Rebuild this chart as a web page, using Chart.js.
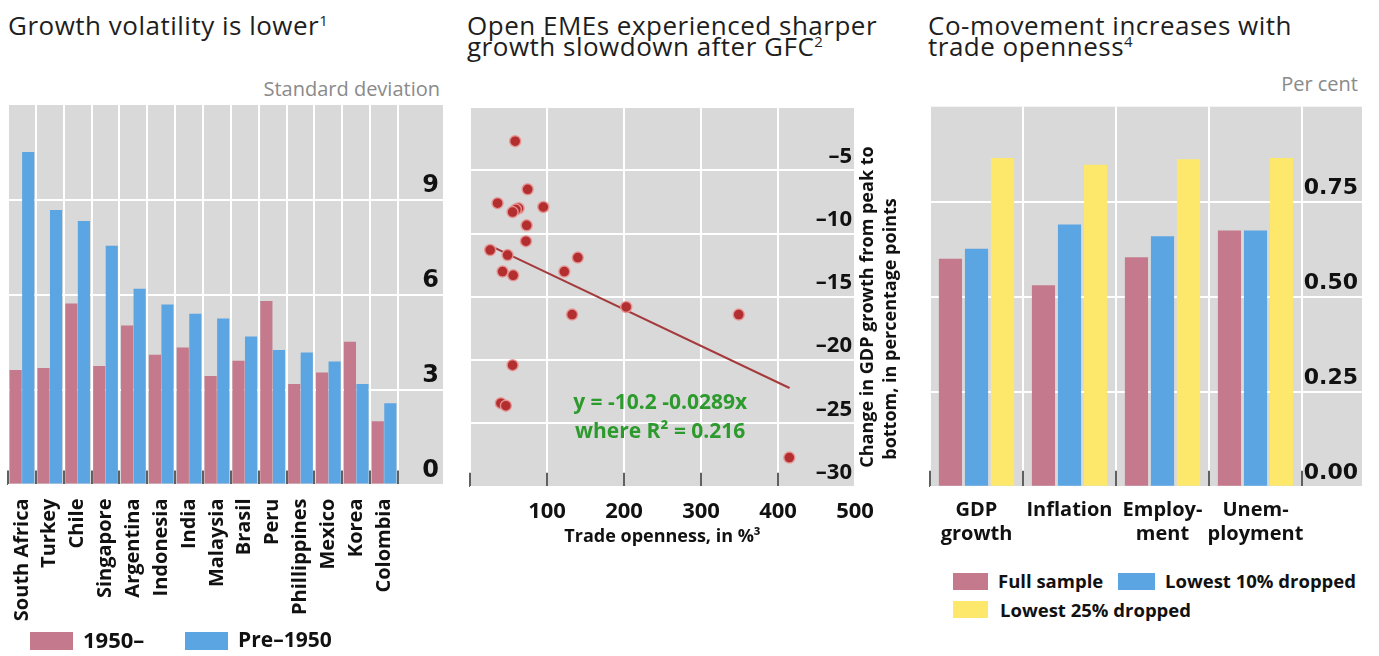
<!DOCTYPE html>
<html><head><meta charset="utf-8">
<script src="https://cdn.jsdelivr.net/npm/chart.js@4.4.1/dist/chart.umd.min.js"></script>
<style>
html,body{margin:0;padding:0;background:#fff;width:1379px;height:656px;overflow:hidden;font-family:'Open Sans',sans-serif;}
.abs{position:absolute;white-space:nowrap;}
.title{font-size:26px;letter-spacing:0.5px;color:#1e1e1e;line-height:21px;}
.title sup{font-size:15px;vertical-align:9px;line-height:0;letter-spacing:0;}
.unit{font-size:20px;color:#8a8a8a;line-height:20px;}
.leg{font-weight:700;color:#111;}
.box{position:absolute;}
canvas{position:absolute;}
</style></head><body>

<div class="abs title" style="left:8px;top:15px;">Growth volatility is lower<sup>1</sup></div>
<div class="abs title" style="left:467px;top:15px;">Open EMEs experienced sharper<br>growth slowdown after GFC<sup>2</sup></div>
<div class="abs title" style="left:928px;top:15px;">Co-movement increases with<br>trade openness<sup>4</sup></div>

<div class="abs unit" style="right:939px;top:79px;">Standard deviation</div>
<div class="abs unit" style="right:21px;top:74px;">Per cent</div>

<canvas id="c1" width="450" height="530" style="left:0;top:100px;"></canvas>
<canvas id="c2" width="460" height="460" style="left:455px;top:100px;"></canvas>
<canvas id="c3" width="464" height="460" style="left:915px;top:100px;"></canvas>

<div class="abs leg" style="left:708px;top:289px;width:340px;height:46px;font-size:18px;line-height:23px;text-align:center;transform:rotate(-90deg);transform-origin:170px 23px;"><span style="padding-left:10px;">Change in GDP growth from peak to</span><br><span style="padding-right:34px;">bottom, in percentage points</span></div>

<div class="box" style="left:30px;top:632px;width:43px;height:18px;background:#c47a8c;"></div>
<div class="abs leg" style="left:83px;top:629px;font-size:22px;line-height:21px;">1950–</div>
<div class="box" style="left:185px;top:632px;width:43px;height:18px;background:#5ca5e3;"></div>
<div class="abs leg" style="left:238px;top:629px;font-size:21px;line-height:21px;">Pre–1950</div>

<div class="box" style="left:953px;top:573px;width:35px;height:17px;background:#c47a8c;"></div>
<div class="abs leg" style="left:998px;top:571px;font-size:18.5px;line-height:19px;">Full sample</div>
<div class="box" style="left:1118px;top:573px;width:37px;height:17px;background:#5ca5e3;"></div>
<div class="abs leg" style="left:1165px;top:571px;font-size:18.5px;line-height:19px;">Lowest 10% dropped</div>
<div class="box" style="left:953px;top:601px;width:35px;height:17px;background:#fde86b;"></div>
<div class="abs leg" style="left:1000px;top:600px;font-size:18.5px;line-height:19px;">Lowest 25% dropped</div>

<script>
// ---------- data ----------
const countries = ['South Africa','Turkey','Chile','Singapore','Argentina','Indonesia','India','Malaysia','Brasil','Peru','Phillippines','Mexico','Korea','Colombia'];
const vol1950 = [3.62,3.68,5.72,3.75,5.03,4.10,4.33,3.43,3.91,5.80,3.18,3.54,4.51,2.00];
const volPre1950 = [10.51,8.68,8.33,7.55,6.19,5.69,5.40,5.25,4.68,4.25,4.17,3.89,3.18,2.57];
const volTicks = [0,3,6,9];

const tradeOpenness = [58.7,74.9,35.8,95.2,63.1,59.6,55.3,73.6,72.7,26.2,48.8,42.3,56.1,122.5,140,132.6,202.9,349,55.3,40.1,46.6,414.7];
const gdpChange = [-2.7,-6.5,-7.6,-7.9,-8.0,-8.1,-8.3,-9.35,-10.6,-11.3,-11.7,-13.0,-13.3,-13.0,-11.9,-16.4,-15.8,-16.4,-20.4,-23.4,-23.6,-27.7];
const trendX = [26,415];
const trendY = [-10.95,-22.2];
const eqLines = ['y = -10.2 -0.0289x','where R² = 0.216'];
const eqX = 247;
const eqY = [-23.4,-25.7];

const measures = [['GDP','growth'],['Inflation'],['Employ-','ment'],['Unem-','ployment']];
const coFull = [0.600,0.530,0.604,0.674];
const coLow10 = [0.626,0.690,0.659,0.674];
const coLow25 = [0.865,0.847,0.862,0.865];

// ---------- styles ----------
const PINK='#c47a8c', BLUE='#5ca5e3', YELLOW='#fde86b', GREY='#d9d9d9', TICK='#2b2b2b';
Chart.defaults.font.family = "'Open Sans', sans-serif";
Chart.defaults.color = '#111';

const greyBg = {
  id:'greyBg',
  beforeDraw(chart){
    const {ctx, chartArea:a} = chart;
    const ys = chart.scales.y;
    const right = Math.max(a.right, ys.right);
    ctx.save(); ctx.fillStyle = GREY;
    ctx.fillRect(a.left, a.top, right - a.left, a.bottom - a.top);
    ctx.restore();
  }
};
const eqText = {
  id:'eqText',
  afterDatasetsDraw(chart){
    const {ctx} = chart; const xs = chart.scales.x, ys = chart.scales.y;
    ctx.save();
    ctx.font = "bold 21px 'Open Sans'"; ctx.fillStyle = '#2c9a2c';
    ctx.textAlign = 'center'; ctx.textBaseline = 'middle';
    eqLines.forEach((t,i)=>ctx.fillText(t, xs.getPixelForValue(eqX), ys.getPixelForValue(eqY[i])));
    ctx.restore();
  }
};
const base = {responsive:false, animation:false, devicePixelRatio:1,
  plugins:{legend:{display:false}, tooltip:{enabled:false}}};
function fitX(h){ return s=>{ s.height=h; s.paddingLeft=0; s.paddingRight=0; }; }
function fitY(w){ return s=>{ s.width=w; s.paddingTop=0; s.paddingBottom=0; }; }

// ---------- chart 1 ----------
new Chart(document.getElementById('c1'), {
  type:'bar',
  data:{labels:countries, datasets:[
    {label:'1950–', data:vol1950, backgroundColor:PINK, categoryPercentage:0.9, barPercentage:0.97},
    {label:'Pre–1950', data:volPre1950, backgroundColor:BLUE, categoryPercentage:0.9, barPercentage:0.97}
  ]},
  options:{...base,
    layout:{padding:{left:8,right:7,top:5,bottom:0}},
    scales:{
      x:{grid:{offset:true,color:'#fff',lineWidth:2,drawTicks:true,tickLength:-14,tickColor:TICK,tickWidth:1.5},
         border:{display:false},
         ticks:{minRotation:90,maxRotation:90,autoSkip:false,padding:28,font:{weight:'bold',size:20},color:'#111'},
         afterFit:fitX(145.5)},
      y:{position:'right',min:0,max:12,
         grid:{color:c=>c.tick&&c.tick.value===12?'rgba(0,0,0,0)':'#fff',lineWidth:2,drawTicks:true,tickLength:45},
         border:{display:false},
         ticks:{stepSize:3,mirror:true,padding:41,labelOffset:-14,font:{family:'DejaVu Sans',weight:'bold',size:24},color:'#111',
                callback:v=>volTicks.includes(v)?String(v):''},
         afterFit:fitY(45)}
    }
  },
  plugins:[greyBg]
});

// ---------- chart 2 ----------
new Chart(document.getElementById('c2'), {
  type:'scatter',
  data:{datasets:[
    {type:'scatter', data:tradeOpenness.map((x,i)=>({x, y:gdpChange[i]})), backgroundColor:'#b32e2e', borderColor:'rgba(232,150,150,0.9)', borderWidth:1.5, pointRadius:5.5, order:1},
    {type:'line', data:trendX.map((x,i)=>({x, y:trendY[i]})), borderColor:'#a53a3c', borderWidth:2, pointRadius:0, order:2}
  ]},
  options:{...base,
    layout:{padding:{left:15,right:60,top:5.5,bottom:0}},
    scales:{
      x:{type:'linear',min:0,max:500,
         grid:{color:'#fff',lineWidth:2,drawTicks:true,tickLength:-14,tickColor:c=>c.tick&&c.tick.value===500?'rgba(0,0,0,0)':TICK,tickWidth:1.5},
         border:{display:false},
         ticks:{stepSize:100,padding:26,font:{weight:'bold',size:22},color:'#111',callback:v=>v===0?'':String(v)},
         title:{display:true,text:'Trade openness, in %³',font:{weight:'bold',size:18},color:'#111',padding:{top:0,bottom:12}},
         afterFit:fitX(73.3)},
      y:{type:'linear',position:'right',min:-30,max:0,
         grid:{color:'#fff',lineWidth:2,drawTicks:false},
         border:{display:false},
         ticks:{stepSize:5,mirror:true,padding:-3,labelOffset:-14,font:{weight:'bold',size:22},color:'#111',
                callback:v=>v===0?'':'–'+Math.abs(v)},
         afterFit:fitY(0)}
    }
  },
  plugins:[greyBg, eqText]
});

// ---------- chart 3 ----------
new Chart(document.getElementById('c3'), {
  type:'bar',
  data:{labels:measures, datasets:[
    {label:'Full sample', data:coFull, backgroundColor:PINK, categoryPercentage:0.84, barPercentage:0.89},
    {label:'Lowest 10% dropped', data:coLow10, backgroundColor:BLUE, categoryPercentage:0.84, barPercentage:0.89},
    {label:'Lowest 25% dropped', data:coLow25, backgroundColor:YELLOW, categoryPercentage:0.84, barPercentage:0.89}
  ]},
  options:{...base,
    layout:{padding:{left:15,right:17,top:6.7,bottom:0}},
    scales:{
      x:{grid:{offset:true,color:'#fff',lineWidth:2,drawTicks:true,tickLength:-16,tickColor:TICK,tickWidth:1.5},
         border:{display:false},
         ticks:{maxRotation:0,autoSkip:false,padding:28,font:{weight:'bold',size:20,lineHeight:1.2},color:'#111'},
         afterFit:fitX(73.3)},
      y:{position:'right',min:0,max:1,
         grid:{color:c=>c.tick&&c.tick.value===1?'rgba(0,0,0,0)':'#fff',lineWidth:2,drawTicks:true,tickLength:60},
         border:{display:false},
         ticks:{stepSize:0.25,mirror:true,padding:56,labelOffset:-13,font:{family:'DejaVu Sans',weight:'bold',size:22},color:'#111',
                callback:v=>v<1?v.toFixed(2):''},
         afterFit:fitY(60)}
    }
  },
  plugins:[greyBg]
});
</script>
</body></html>
